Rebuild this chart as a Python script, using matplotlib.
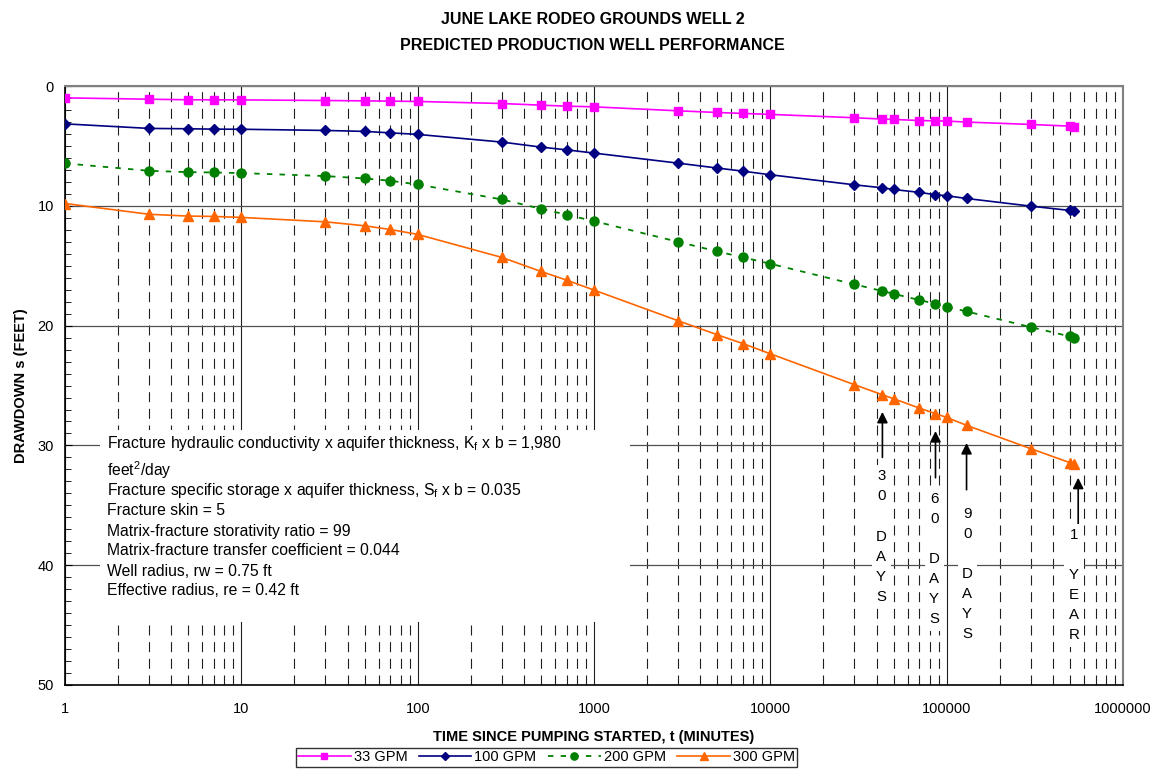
import numpy as np
import matplotlib
matplotlib.use("Agg")
import matplotlib.pyplot as plt
from matplotlib.ticker import FixedLocator, LogLocator, MultipleLocator, FuncFormatter, NullFormatter
from matplotlib.patches import Rectangle

plt.rcParams['font.family'] = ['Liberation Sans', 'DejaVu Sans']

# time since pumping started (minutes)
t = [1, 3, 5, 7, 10, 30, 50, 70, 100, 300, 500, 700, 1000, 3000, 5000, 7000,
     10000, 30000, 43200, 50000, 70000, 86400, 100000, 129600, 300000, 500000, 525600]

# drawdown (feet) for each pumping rate
s_33 = [0.98, 1.09, 1.14, 1.14, 1.15, 1.20, 1.23, 1.25, 1.28, 1.45, 1.59, 1.67, 1.73,
        2.06, 2.20, 2.28, 2.36, 2.64, 2.75, 2.78, 2.87, 2.90, 2.92, 3.00, 3.20, 3.34, 3.40]
s_100 = [3.15, 3.53, 3.56, 3.59, 3.60, 3.70, 3.78, 3.90, 4.03, 4.67, 5.09, 5.32, 5.59,
         6.43, 6.84, 7.10, 7.40, 8.24, 8.49, 8.63, 8.87, 9.07, 9.15, 9.38, 10.02, 10.38, 10.40]
s_200 = [6.45, 7.07, 7.18, 7.21, 7.26, 7.51, 7.71, 7.90, 8.21, 9.46, 10.24, 10.74, 11.27,
         13.00, 13.80, 14.30, 14.83, 16.55, 17.11, 17.34, 17.86, 18.17, 18.42, 18.81, 20.12, 20.90, 21.00]
s_300 = [9.80, 10.70, 10.85, 10.88, 10.96, 11.33, 11.66, 11.97, 12.38, 14.30, 15.47, 16.20, 17.03,
         19.59, 20.76, 21.50, 22.35, 24.93, 25.77, 26.10, 26.88, 27.35, 27.66, 28.32, 30.27, 31.44, 31.55]

x_ticks = [1, 10, 100, 1000, 10000, 100000, 1000000]

params = [
    'Fracture hydraulic conductivity x aquifer thickness, K$_\\mathregular{f}$ x b = 1,980',
    'feet$^\\mathregular{2}$/day',
    'Fracture specific storage x aquifer thickness, S$_\\mathregular{f}$ x b = 0.035',
    'Fracture skin = 5',
    'Matrix-fracture storativity ratio = 99',
    'Matrix-fracture transfer coefficient = 0.044',
    'Well radius, rw = 0.75 ft',
    'Effective radius, re = 0.42 ft',
]

# marker labels: (text, arrow x, arrow tip, arrow tail, text x, text top)
marks = [
    ('3\n0\n\nD\nA\nY\nS', 43200, 27.2, 31.0, 42500, 32.0),
    ('6\n0\n\nD\nA\nY\nS', 86400, 28.8, 32.7, 84900, 33.9),
    ('9\n0\n\nD\nA\nY\nS', 129600, 29.8, 33.7, 130700, 35.1),
    ('1\n\nY\nE\nA\nR', 557000, 32.7, 36.6, 528000, 36.9),
]

fig = plt.figure(figsize=(11.53, 7.76), dpi=100)
ax = fig.add_axes([0.0564, 0.1173, 0.9176, 0.7717])

ax.plot(t, s_33, color='#ff00ff', lw=1.2, marker='s', ms=6, label='33 GPM', zorder=3)
ax.plot(t, s_100, color='#000080', lw=1.2, marker='D', ms=5, label='100 GPM', zorder=3)
ax.plot(t, s_200, color='#008000', lw=1.3, ls=(0, (3, 4)), marker='o', ms=6.5,
        label='200 GPM', zorder=3)
ax.plot(t, s_300, color='#ff6600', lw=1.2, marker='^', ms=7, label='300 GPM', zorder=3)

ax.set_xscale('log')
ax.set_xlim(1, 1e6)
ax.set_ylim(50, 0)
ax.xaxis.set_major_locator(FixedLocator(x_ticks))
ax.xaxis.set_minor_locator(LogLocator(base=10, subs=np.arange(2, 10), numticks=20))
ax.xaxis.set_major_formatter(FuncFormatter(lambda v, p: '%d' % round(v)))
ax.xaxis.set_minor_formatter(NullFormatter())
ax.yaxis.set_major_locator(MultipleLocator(10))
ax.yaxis.set_minor_locator(MultipleLocator(1))

ax.set_axisbelow(True)
ax.grid(which='major', axis='x', color='#202020', lw=0.8)
ax.grid(which='minor', axis='x', color='#202020', lw=0.8, ls=(0, (9, 6)))
ax.grid(which='major', axis='y', color='#505050', lw=0.9)

ax.tick_params(axis='x', which='both', length=0, pad=12, labelsize=10.5)
ax.tick_params(axis='y', which='major', direction='in', length=5, labelsize=10.5, pad=8)
ax.tick_params(axis='y', which='minor', direction='in', length=4)

for side in ['top', 'right']:
    ax.spines[side].set_color('#808080')
    ax.spines[side].set_linewidth(1.5)
for side in ['left', 'bottom']:
    ax.spines[side].set_color('#000000')
    ax.spines[side].set_linewidth(1.2)

# parameter box
ax.add_patch(Rectangle((0.033, 0.105), 0.501, 0.32, transform=ax.transAxes,
                       facecolor='white', edgecolor='none', zorder=2))
ys = [0.404, 0.358, 0.325, 0.291, 0.257, 0.224, 0.190, 0.157]
for y, line in zip(ys, params):
    ax.text(0.04, y, line, transform=ax.transAxes, fontsize=11.3, va='center',
            ha='left', zorder=4)

for label, xt, ytip, ytail, xl, yl in marks:
    ax.annotate('', xy=(xt, ytip), xytext=(xt, ytail),
                arrowprops=dict(arrowstyle='-|>', color='black', lw=1.2,
                                mutation_scale=16, shrinkA=0, shrinkB=0), zorder=4)
    ax.text(xl, yl, label, ha='center', va='top', fontsize=10.8, linespacing=1.55,
            zorder=4, bbox=dict(facecolor='white', edgecolor='none', pad=3))

fig.text(0.514, 0.975, 'JUNE LAKE RODEO GROUNDS WELL 2', ha='center', va='center',
         fontsize=11.5, fontweight='bold')
fig.text(0.514, 0.942, 'PREDICTED PRODUCTION WELL PERFORMANCE', ha='center', va='center',
         fontsize=11.5, fontweight='bold')
ax.set_xlabel('TIME SINCE PUMPING STARTED, t (MINUTES)', fontsize=10.5,
              fontweight='bold', labelpad=10)
ax.set_ylabel('DRAWDOWN s (FEET)', fontsize=10.5, fontweight='bold', labelpad=7)

leg = fig.legend(loc='center', bbox_to_anchor=(0.474, 0.024), ncol=4, fontsize=10.5,
                 frameon=True, fancybox=False, edgecolor='black', handlelength=3.6,
                 handletextpad=0.2, columnspacing=0.8, borderpad=0.15, numpoints=1,
                 markerscale=0.8)
leg.get_frame().set_linewidth(1.0)

fig.savefig('out.png', dpi=100)
